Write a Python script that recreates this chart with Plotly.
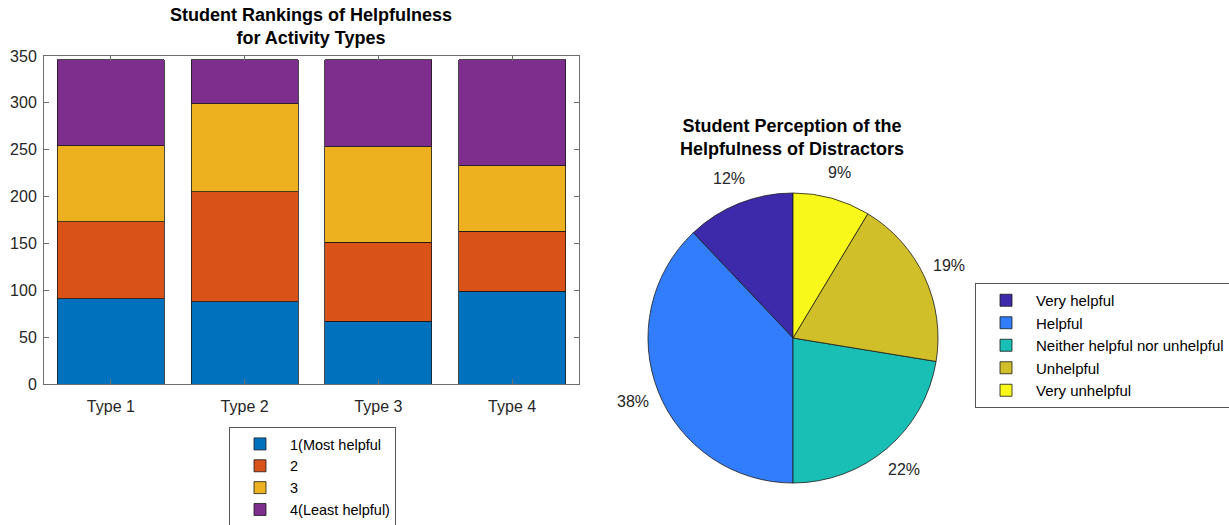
import math
import plotly.graph_objects as go

categories = ["Type 1", "Type 2", "Type 3", "Type 4"]
rank_names = ["1(Most helpful", "2", "3", "4(Least helpful)"]
rank1 = [91, 88, 67, 99]
rank2 = [82, 117, 84, 64]
rank3 = [81, 94, 102, 70]
rank4 = [92, 47, 93, 113]
bar_colors = ["#0072BD", "#D95319", "#EDB120", "#7E2F8E"]

pie_labels = ["Very helpful", "Helpful", "Neither helpful nor unhelpful", "Unhelpful", "Very unhelpful"]
pie_counts = [7, 22, 13, 11, 5]
pie_colors = ["#3D2AAA", "#317DFB", "#19BFB5", "#D1BF2A", "#F8F81A"]

W, H = 1229, 525
FONT = "Liberation Sans, Arial, sans-serif"
TXT = "#262626"

def px(x):
    return x / W

def py(y):
    return 1 - y / H

# pie geometry (pixels)
PCX, PCY, PR = 793, 338, 145
LABEL_R = 172

fig = go.Figure()
for name, vals, col in zip(rank_names, [rank1, rank2, rank3, rank4], bar_colors):
    fig.add_trace(go.Bar(
        x=categories, y=vals, name=name,
        marker=dict(color=col, line=dict(color="#1a1a1a", width=0.8)),
        legend="legend",
    ))

total = sum(pie_counts)
fig.add_trace(go.Pie(
    labels=pie_labels, values=pie_counts, sort=False,
    direction="counterclockwise", rotation=-360.0 * pie_counts[0] / total,
    marker=dict(colors=pie_colors, line=dict(color="#1a1a1a", width=0.8)),
    textinfo="none",
    domain=dict(x=[px(PCX - PR), px(PCX + PR)], y=[py(PCY + PR), py(PCY - PR)]),
    legend="legend2", showlegend=True,
))

annotations = [
    dict(text="<b>Student Rankings of Helpfulness<br>for Activity Types</b>",
         x=px(311), y=py(3), xref="paper", yref="paper", xanchor="center", yanchor="top",
         showarrow=False, font=dict(size=18, color="black", family=FONT)),
    dict(text="<b>Student Perception of the<br>Helpfulness of Distractors</b>",
         x=px(792), y=py(114), xref="paper", yref="paper", xanchor="center", yanchor="top",
         showarrow=False, font=dict(size=18, color="black", family=FONT)),
]

# percentage labels, MATLAB-style, placed outside at each slice's mid angle
cum = 0
for v in pie_counts:
    mid = (cum + v / 2) / total * 2 * math.pi
    cum += v
    lx = PCX - LABEL_R * math.sin(mid)
    ly = PCY - LABEL_R * math.cos(mid)
    annotations.append(dict(
        text=f"{round(100 * v / total)}%", x=px(lx), y=py(ly), xref="paper", yref="paper",
        xanchor="center", yanchor="middle", showarrow=False,
        font=dict(size=16, color=TXT, family=FONT)))

axis_common = dict(
    showline=True, linecolor="#6e6e6e", linewidth=1, mirror="ticks",
    ticks="inside", ticklen=5, tickcolor="#6e6e6e",
    tickfont=dict(size=16, color=TXT, family=FONT), showgrid=False, zeroline=False,
    automargin=False,
)

fig.update_layout(
    width=W, height=H,
    margin=dict(l=0, r=0, t=0, b=0, autoexpand=False),
    paper_bgcolor="white", plot_bgcolor="white",
    barmode="stack", bargap=0.2,
    font=dict(family=FONT, color=TXT, size=16),
    xaxis=dict(domain=[px(44), px(579)], range=[-0.5, 3.5], type="category",
               ticklabelstandoff=8, **axis_common),
    yaxis=dict(domain=[py(384), py(56)], range=[0, 350], dtick=50,
               ticklabelstandoff=3, **axis_common),
    legend=dict(
        x=px(229), y=py(427), xanchor="left", yanchor="top",
        xref="container", yref="container",
        bordercolor="#555555", borderwidth=1, bgcolor="white",
        traceorder="normal", font=dict(size=14.5, color="black", family=FONT),
        itemwidth=50, tracegroupgap=0,
    ),
    legend2=dict(
        x=px(975), y=py(283), xanchor="left", yanchor="top",
        xref="container", yref="container",
        bordercolor="#555555", borderwidth=1, bgcolor="white",
        traceorder="normal", font=dict(size=15, color="black", family=FONT),
        itemwidth=50,
    ),
    annotations=annotations,
)

fig.write_html(
    "out.html",
    config={"displayModeBar": False},
    post_script="document.body.style.margin='0';document.body.style.overflow='hidden';",
)
